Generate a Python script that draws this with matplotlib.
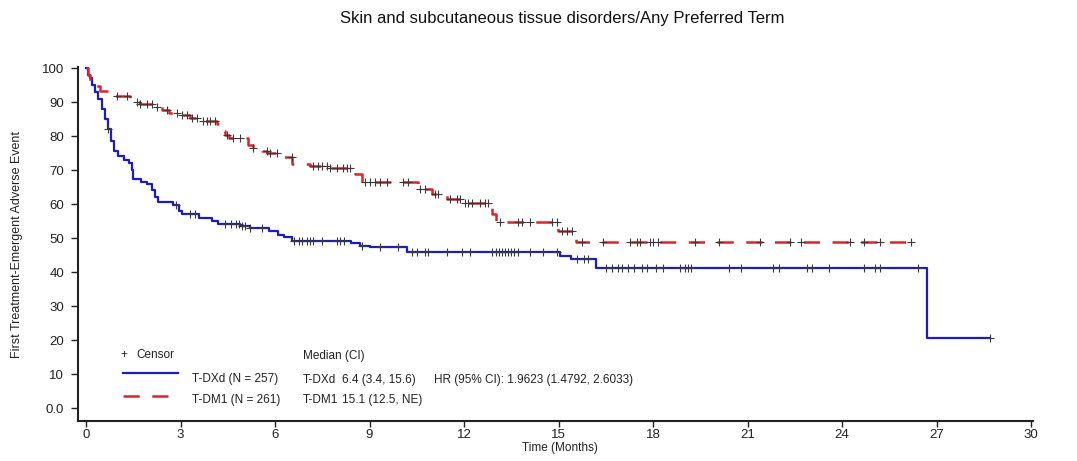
import numpy as np
import matplotlib
matplotlib.use("Agg")
import matplotlib.pyplot as plt
from matplotlib.lines import Line2D

plt.rcParams['font.family'] = ['Liberation Sans', 'DejaVu Sans']

# Kaplan-Meier step data (time in months, % free of first TEAE)
dxd_time = [0, 0.05, 0.12, 0.2, 0.3, 0.38, 0.5, 0.6, 0.7, 0.8, 0.88, 1.0, 1.2, 1.35,
            1.45, 1.5, 1.75, 1.95, 2.1, 2.2, 2.3, 2.75, 2.95, 3.05, 3.6, 4.0, 4.2, 4.9,
            5.2, 5.8, 6.1, 6.3, 6.55, 8.4, 8.7, 9.0, 10.2, 15.05, 15.4, 16.2, 26.7, 28.7]
dxd_surv = [100, 98, 97, 95, 93, 91, 88, 85, 82, 78.5, 75.5, 74, 73, 72,
            70, 67.5, 66.5, 65.8, 64, 62, 60.5, 59.6, 58, 57, 56, 55, 54.2, 53.5,
            53, 52.2, 51, 50.2, 49.2, 48.5, 47.8, 47.3, 45.8, 44.6, 43.8, 41.3, 20.7, 20.7]

dm1_time = [0, 0.05, 0.12, 0.25, 0.45, 0.9, 1.4, 1.55, 1.7, 2.1, 2.4, 2.65, 3.0, 3.3,
            3.7, 4.15, 4.25, 4.4, 4.55, 5.15, 5.3, 5.6, 5.75, 6.2, 6.55, 7.1, 7.7, 8.55,
            8.75, 10.55, 10.97, 11.45, 11.95, 12.9, 13.0, 14.98, 15.55, 26.2]
dm1_surv = [100, 98, 96.2, 94.7, 93.2, 91.8, 90.8, 90, 89.4, 88.4, 87.8, 86.9, 86.2, 85.4,
            84.5, 83.5, 81.5, 80.3, 79.5, 77.5, 76.6, 75.5, 75, 73.8, 71.8, 71.2, 70.5, 68.9,
            66.4, 64.4, 63.0, 61.5, 60.2, 57, 54.7, 52.2, 48.9, 48.9]

# Censoring times
dxd_censor = [0.7, 2.85, 3.3, 3.45, 4.4, 4.6, 4.75, 4.85, 4.95, 5.05, 5.2, 5.6, 6.6, 6.75,
              6.86, 7.0, 7.1, 7.2, 7.5, 7.97, 8.06, 8.2, 8.76, 9.33, 9.9, 10.35, 10.5,
              10.76, 10.86, 11.46, 11.94, 12.2, 12.9, 13.0, 13.1, 13.2, 13.3, 13.4, 13.5,
              13.6, 13.7, 14.1, 14.5, 14.95, 15.6, 15.8, 15.95, 16.5, 16.7, 16.9, 17.0,
              17.2, 17.4, 17.65, 17.8, 18.1, 18.3, 18.86, 19.0, 19.1, 19.2, 20.4, 20.8,
              21.8, 22.0, 22.9, 23.05, 23.6, 24.7, 25.05, 25.2, 26.4, 28.7]
dm1_censor = [0.97, 1.3, 1.61, 1.71, 1.93, 2.09, 2.24, 2.56, 2.88, 3.04, 3.2, 3.36, 3.51,
              3.72, 3.83, 3.94, 4.1, 4.47, 4.68, 4.89, 5.31, 5.74, 5.84, 6.05, 6.53, 7.22,
              7.37, 7.5, 7.65, 7.75, 7.97, 8.16, 8.29, 8.38, 8.86, 9.0, 9.17, 9.33, 9.56,
              10.06, 10.22, 10.6, 10.76, 11.08, 11.17, 11.56, 11.78, 11.87, 12.03, 12.13,
              12.25, 12.5, 12.67, 12.76, 13.14, 13.7, 13.84, 14.1, 14.8, 14.95, 15.1,
              15.27, 15.43, 15.75, 16.4, 17.27, 17.49, 17.59, 17.9, 18.0, 18.16, 19.33,
              20.1, 21.4, 22.35, 22.7, 24.25, 24.7, 25.2, 26.2]

x_ticks = [0, 3, 6, 9, 12, 15, 18, 21, 24, 27, 30]
y_ticks = [0, 10, 20, 30, 40, 50, 60, 70, 80, 90, 100]
y_labels = ['0.0', '10', '20', '30', '40', '50', '60', '70', '80', '90', '100']

BLUE = '#1c1cc4'
RED = '#d8262a'
CENSOR = '#3a3a3a'
TEXT = '#222222'

W, H = 1077, 461
fig = plt.figure(figsize=(W / 100, H / 100), dpi=100)


def fx(px):
    return px / W


def fy(py):
    return 1 - py / H


ax = fig.add_axes([fx(78), fy(421), fx(1033) - fx(78), fy(67) - fy(421)])


def step_value(times, surv, t):
    idx = np.searchsorted(times, t, side='right') - 1
    return np.asarray(surv)[idx]


ax.step(dxd_time, dxd_surv, where='post', color=BLUE, lw=1.6, zorder=3)
ax.step(dm1_time, dm1_surv, where='post', color=RED, lw=1.8, zorder=3,
        dashes=(6.5, 5))

ax.plot(dxd_censor, step_value(dxd_time, dxd_surv, dxd_censor), ls='none',
        marker='+', ms=5.5, mew=0.8, color=CENSOR, zorder=4)
ax.plot(dm1_censor, step_value(dm1_time, dm1_surv, dm1_censor), ls='none',
        marker='+', ms=5.5, mew=0.8, color=CENSOR, zorder=4)

ax.set_xlim(-0.254, 30.06)
ax.set_ylim(-3.8, 100.3)
ax.set_xticks(x_ticks)
ax.set_yticks(y_ticks)
ax.set_yticklabels(y_labels)
ax.tick_params(axis='y', labelsize=9.5, length=5, width=1, colors=TEXT, pad=5)
ax.tick_params(axis='x', labelsize=9.5, length=4, width=1, colors=TEXT, pad=2)
for s in ('top', 'right'):
    ax.spines[s].set_visible(False)
for s in ('left', 'bottom'):
    ax.spines[s].set_linewidth(1.5)
    ax.spines[s].set_color(TEXT)

# Titles and axis labels
fig.text(fx(562), fy(18), 'Skin and subcutaneous tissue disorders/Any Preferred Term',
         ha='center', va='center', fontsize=12, color='#111111')
fig.text(fx(560), fy(448), 'Time (Months)', ha='center', va='center', fontsize=8.5,
         color=TEXT)
fig.text(fx(17), fy(244), 'First Treatment-Emergent Adverse Event', ha='center',
         va='center', rotation=90, fontsize=9, color=TEXT)

# Legend block
fs = 8.5
fig.text(fx(124), fy(355), '+', ha='center', va='center', fontsize=fs, color=TEXT)
fig.text(fx(136), fy(355), 'Censor', ha='left', va='center', fontsize=fs, color=TEXT)
fig.add_artist(Line2D([fx(123), fx(178)], [fy(373), fy(373)], color=BLUE, lw=1.6))
fig.add_artist(Line2D([fx(123), fx(178)], [fy(396), fy(396)], color=RED, lw=1.8,
                      dashes=(6.5, 5)))
fig.text(fx(192), fy(379), 'T-DXd (N = 257)', ha='left', va='center', fontsize=fs,
         color=TEXT)
fig.text(fx(192), fy(400), 'T-DM1 (N = 261)', ha='left', va='center', fontsize=fs,
         color=TEXT)

fig.text(fx(303), fy(356), 'Median (CI)', ha='left', va='center', fontsize=fs,
         color=TEXT)
fig.text(fx(303), fy(380), 'T-DXd', ha='left', va='center', fontsize=fs, color=TEXT)
fig.text(fx(342), fy(380), '6.4 (3.4, 15.6)', ha='left', va='center', fontsize=fs,
         color=TEXT)
fig.text(fx(303), fy(400), 'T-DM1', ha='left', va='center', fontsize=fs, color=TEXT)
fig.text(fx(342), fy(400), '15.1 (12.5, NE)', ha='left', va='center', fontsize=fs,
         color=TEXT)
fig.text(fx(434), fy(380), 'HR (95% CI): 1.9623 (1.4792, 2.6033)', ha='left',
         va='center', fontsize=fs, color=TEXT)

fig.savefig('out.png', dpi=100, facecolor='white')
